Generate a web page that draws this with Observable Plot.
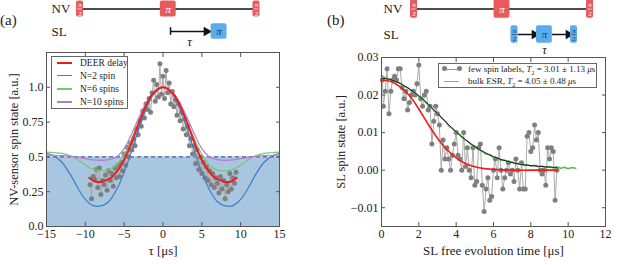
<!DOCTYPE html>
<html><head><meta charset="utf-8">
<script src="https://cdn.jsdelivr.net/npm/d3@7"></script>
<script src="https://cdn.jsdelivr.net/npm/@observablehq/plot@0.6"></script>
<style>
body{margin:0;background:#fff;}
#c{position:relative;width:623px;height:265px;overflow:hidden;font-family:"Liberation Serif","Times New Roman",serif;color:#222;}
#c svg{position:absolute;overflow:visible;font-family:"Liberation Serif","Times New Roman",serif !important;}
#c svg text{font-family:"Liberation Serif","Times New Roman",serif;}
.lbl{position:absolute;font-size:15px;line-height:1;}
.leg{position:absolute;box-sizing:border-box;background:#fff;border:1px solid #666;}
.row{position:absolute;left:0;right:0;height:12px;}
.sw{position:absolute;height:0;}
.tx{position:absolute;top:-6px;line-height:12px;white-space:nowrap;}
.dotm{position:absolute;width:5px;height:5px;border-radius:50%;background:#7f7f7f;top:-3px;}
</style></head><body><div id="c"></div>
<script>
// ---------- data: panel (a) ----------
const nvPoints = [[-9.4,0.30],[-9.2,0.20],[-9.0,0.36],[-8.8,0.34],[-8.6,0.41],[-8.4,0.28],[-8.2,0.42],[-8.0,0.23],[-7.8,0.33],[-7.6,0.30],
[-7.4,0.37],[-7.2,0.26],[-7.0,0.40],[-6.8,0.33],[-6.6,0.38],[-6.4,0.29],[-6.2,0.42],[-6.0,0.35],[-5.8,0.44],[-5.6,0.36],
[-5.4,0.46],[-5.2,0.40],[-5.0,0.52],[-4.8,0.44],[-4.6,0.57],[-4.4,0.50],[-4.2,0.60],[-4.0,0.55],[-3.8,0.63],[-3.6,0.58],
[-3.4,0.70],[-3.2,0.66],[-3.0,0.76],[-2.8,0.72],[-2.6,0.83],[-2.4,0.78],[-2.2,0.88],[-2.0,0.84],[-1.8,0.92],[-1.6,0.82],
[-1.4,0.96],[-1.2,1.05],[-1.0,0.90],[-0.8,1.02],[-0.6,0.93],[-0.4,1.17],[-0.2,0.95],[0.0,1.08],[0.2,0.92],[0.4,1.12],
[0.6,0.96],[0.8,1.03],[1.0,0.88],[1.2,0.97],[1.4,0.86],[1.6,0.91],[1.8,0.80],[2.0,0.88],[2.2,0.76],[2.4,0.82],
[2.6,0.70],[2.8,0.77],[3.0,0.66],[3.2,0.72],[3.4,0.58],[3.6,0.63],[3.8,0.52],[4.0,0.58],[4.2,0.45],[4.4,0.55],
[4.6,0.41],[4.8,0.50],[5.0,0.38],[5.2,0.46],[5.4,0.35],[5.6,0.43],[5.8,0.33],[6.0,0.40],[6.2,0.30],[6.4,0.38],
[6.6,0.28],[6.8,0.35],[7.0,0.31],[7.2,0.24],[7.4,0.36],[7.6,0.27],[7.8,0.33],[8.0,0.20],[8.2,0.30],[8.4,0.25],
[8.6,0.38],[8.8,0.27],[9.0,0.35],[9.2,0.31],[9.4,0.39]];
const tauCurve = [-15,-14,-13,-12,-11,-10,-9,-8,-7,-6,-5,-4,-3,-2,-1,0,1,2,3,4,5,6,7,8,9,10,11,12,13,14,15];
const n2Spin  = [0.525,0.505,0.46,0.38,0.28,0.195,0.150,0.148,0.178,0.262,0.39,0.55,0.72,0.87,0.966,1.0,0.966,0.87,0.72,0.55,0.39,0.262,0.178,0.148,0.150,0.195,0.28,0.38,0.46,0.505,0.525];
const n6Spins = [0.535,0.53,0.525,0.51,0.48,0.44,0.41,0.40,0.405,0.44,0.52,0.635,0.77,0.89,0.97,1.0,0.97,0.89,0.77,0.635,0.52,0.44,0.405,0.40,0.41,0.44,0.48,0.51,0.525,0.53,0.535];
const n10Spins= [0.512,0.512,0.51,0.505,0.497,0.487,0.478,0.475,0.48,0.50,0.56,0.67,0.795,0.905,0.975,1.0,0.975,0.905,0.795,0.67,0.56,0.50,0.48,0.475,0.478,0.487,0.497,0.505,0.51,0.512,0.512];
const tauDeer = [-9.5,-9,-8.5,-8,-7.5,-7,-6.5,-6,-5.5,-5,-4.5,-4,-3.5,-3,-2.5,-2,-1.5,-1,-0.5,0,0.5,1,1.5,2,2.5,3,3.5,4,4.5,5,5.5,6,6.5,7,7.5,8,8.5,9,9.5];
const deerDecay = [0.35,0.33,0.32,0.32,0.33,0.34,0.36,0.39,0.43,0.48,0.54,0.61,0.685,0.76,0.83,0.89,0.94,0.97,0.993,1.0,0.993,0.97,0.94,0.89,0.83,0.76,0.685,0.61,0.54,0.48,0.43,0.39,0.36,0.34,0.33,0.32,0.32,0.33,0.35];
const classicalLevel = [0.5];
const xTicksA = [-15,-10,-5,0,5,10,15];
const xTickLabelsA = ["\u221215","\u221210","\u22125","0","5","10","15"];
const yTicksA = [0,0.25,0.5,0.75,1.0];
const yTickLabelsA = ["0.0","0.25","0.5","0.75","1.0"];
const legendA = ["DEER delay","N=2 spin","N=6 spins","N=10 spins"];

// ---------- data: panel (b) ----------
const slPoints = [[0.05,0.024],[0.1,0.017],[0.2,0.021],[0.3,0.027],[0.4,0.015],[0.5,0.021],[0.6,0.024],[0.7,0.025],[0.8,0.024],[0.9,0.027],
[1.0,0.027],[1.1,0.022],[1.2,0.019],[1.3,0.021],[1.4,0.016],[1.5,0.018],[1.6,0.020],[1.7,0.021],[1.8,0.020],[1.9,0.023],
[2.0,0.028],[2.1,0.019],[2.2,0.017],[2.3,0.020],[2.4,0.021],[2.5,0.016],[2.6,0.017],[2.7,0.007],[2.8,0.013],[2.9,0.017],
[3.0,0.015],[3.1,0.012],[3.2,0.000],[3.3,0.008],[3.4,0.003],[3.5,0.006],[3.6,0.003],[3.7,0.000],[3.8,0.004],[3.9,0.007],
[4.0,0.010],[4.1,0.004],[4.2,0.003],[4.3,0.000],[4.4,0.010],[4.5,0.001],[4.6,0.006],[4.7,0.000],[4.8,-0.002],[4.9,0.006],
[5.0,-0.004],[5.1,-0.003],[5.2,0.006],[5.3,0.007],[5.4,-0.004],[5.5,-0.011],[5.6,-0.005],[5.7,-0.002],[5.8,-0.008],[5.9,-0.007],
[6.0,0.000],[6.1,0.003],[6.2,-0.002],[6.3,0.006],[6.4,0.000],[6.5,-0.005],[6.6,-0.002],[6.7,0.000],[6.8,0.002],[6.9,-0.001],
[7.0,0.000],[7.1,-0.003],[7.2,0.003],[7.3,0.000],[7.4,-0.005],[7.5,0.002],[7.6,-0.005],[7.7,-0.005],[7.8,0.009],[7.9,0.010],
[8.0,0.005],[8.1,0.006],[8.2,0.012],[8.3,0.008],[8.4,0.010],[8.5,0.000],[8.6,-0.001],[8.7,0.000],[8.8,-0.004],[8.9,0.006],
[9.0,0.003],[9.1,0.006],[9.2,0.005],[9.3,-0.008],[9.4,0.000]];
const bulkEsr = [[0.0,0.0252],[0.2,0.0246],[0.4,0.0243],[0.6,0.0240],[0.8,0.0234],[1.0,0.0232],[1.2,0.0224],[1.4,0.0220],[1.6,0.0210],[1.8,0.0206],
[2.0,0.0196],[2.2,0.0190],[2.4,0.0178],[2.6,0.0172],[2.8,0.0158],[3.0,0.0152],[3.2,0.0140],[3.4,0.0131],[3.6,0.0118],[3.8,0.0111],
[4.0,0.0100],[4.2,0.0094],[4.4,0.0083],[4.6,0.0078],[4.8,0.0068],[5.0,0.0064],[5.2,0.0055],[5.4,0.0050],[5.6,0.0043],[5.8,0.0041],
[6.0,0.0034],[6.2,0.0033],[6.4,0.0026],[6.6,0.0027],[6.8,0.0021],[7.0,0.0022],[7.2,0.0017],[7.4,0.0018],[7.6,0.0013],[7.8,0.0015],
[8.0,0.0011],[8.2,0.0013],[8.4,0.0009],[8.6,0.0011],[8.8,0.0007],[9.0,0.0010],[9.2,0.0006],[9.4,0.0009],[9.6,0.0005],[9.8,0.0008],
[10.0,0.0004],[10.2,0.0007],[10.4,0.0005]];
const fitBulk = [[0,0.0245],[0.5,0.0241],[1,0.0231],[1.5,0.0216],[2,0.0198],[2.5,0.0176],[3,0.0151],[3.5,0.0126],[4,0.0102],[4.5,0.0081],
[5,0.0063],[5.5,0.0048],[6,0.0036],[6.5,0.0027],[7,0.0020],[7.5,0.0015],[8,0.0012],[8.5,0.0010],[9,0.0008],[9.4,0.0007]];
const fitFew = [[0,0.0240],[0.5,0.0236],[1,0.0222],[1.5,0.0198],[2,0.0163],[2.5,0.0122],[3,0.0085],[3.5,0.0055],[4,0.0033],[4.5,0.0018],
[5,0.0009],[5.5,0.0004],[6,0.0002],[7,0.0],[8,0.0],[9.4,0.0]];
const xTicksB = [0,2,4,6,8,10,12];
const yTicksB = [-0.01,0,0.01,0.02,0.03];
const yTickLabelsB = ["\u22120.01","0.00","0.01","0.02","0.03"];

// ---------- data: pulse schematics ----------
const rowsA = [{row:0,name:"NV"},{row:1,name:"SL"}];
const pulsesA = [{t:0,dur:0.04,row:0,label:"π/2",ch:"NV"},{t:0.5,dur:0.09,row:0,label:"π",ch:"NV"},{t:1,dur:0.04,row:0,label:"π/2",ch:"NV"},
                 {t:0.788,dur:0.09,row:1,label:"π",ch:"SL"}];
const delayA = [{from:0.513,to:0.728,row:1,label:"τ"}];
const rowsB = [{row:0,name:"NV"},{row:1,name:"SL"}];
const pulsesB = [{t:0,dur:0.04,row:0,label:"π/2",ch:"NV"},{t:0.5,dur:0.09,row:0,label:"π",ch:"NV"},{t:1,dur:0.04,row:0,label:"π/2",ch:"NV"},
                 {t:0.571,dur:0.04,row:1,label:"π/2",ch:"SL"},{t:0.741,dur:0.09,row:1,label:"π",ch:"SL"},{t:0.909,dur:0.04,row:1,label:"π/2",ch:"SL"}];
const arrowsB = [{from:0.591,to:0.696,row:1},{from:0.786,to:0.889,row:1}];
const tauB = [{t:0.741,row:1,label:"τ"}];

// ---------- drawing ----------
const root = document.getElementById("c");
const FONT = "Liberation Serif";
function place(el, left, top){ el.style.left = left+"px"; el.style.top = top+"px"; root.appendChild(el); }
const P = d => d[0], V = d => d[1];
const col = {red:"#ee1d1d", blue:"#3b80c0", green:"#7cc673", purple:"#b57ccc", gray:"#7f7f7f", grayLine:"#ababab", fill:"#a9c6e0", frame:"#555"};
const blank = () => "";

function axesFor(xt, xfmt, yt, yfmt){
  return [
    Plot.axisX({ticks: xt, anchor:"bottom", tickSize:-4, tickPadding:7, tickFormat: xfmt, label:null, stroke:col.frame, fontSize:12, fontFamily:FONT, fill:"#222"}),
    Plot.axisX({ticks: xt, anchor:"top", tickSize:-4, tickFormat:blank, label:null, stroke:col.frame}),
    Plot.axisY({ticks: yt, anchor:"left", tickSize:-4, tickPadding:7, tickFormat: yfmt, label:null, stroke:col.frame, fontSize:12, fontFamily:FONT, fill:"#222"}),
    Plot.axisY({ticks: yt, anchor:"right", tickSize:-4, tickFormat:blank, label:null, stroke:col.frame}),
    Plot.frame({stroke:col.frame})
  ];
}
function yLabel(txt, dx){ return Plot.text([txt], {frameAnchor:"left", dx, rotate:-90, textAnchor:"middle", lineAnchor:"middle", fontSize:12.5, fontFamily:FONT, fill:"#222"}); }
function xLabel(txt){ return Plot.text([txt], {frameAnchor:"bottom", dy:24, textAnchor:"middle", lineAnchor:"middle", fontSize:13, fontFamily:FONT, fill:"#222"}); }

const curveA = tauCurve.map((t,i)=>({t, n2:n2Spin[i], n6:n6Spins[i], n10:n10Spins[i]}));
const deerA = tauDeer.map((t,i)=>({t, v:deerDecay[i]}));

const plotA = Plot.plot({
  width:310, height:265, marginLeft:46, marginRight:31, marginTop:52, marginBottom:39,
  style:{fontFamily:FONT, fontSize:"12px", background:"transparent", color:"#222"},
  x:{domain:[-15,15]}, y:{domain:[0,1.25]},
  marks:[
    Plot.rect(classicalLevel, {y1:0, y2:d=>d, fill:col.fill}),
    Plot.ruleY(classicalLevel, {stroke:"#5656a8", strokeWidth:1.3, strokeDasharray:"4,3"}),
    Plot.line(nvPoints, {x:P, y:V, stroke:col.grayLine, strokeWidth:1}),
    Plot.dot(nvPoints, {x:P, y:V, r:2.5, fill:col.gray, stroke:"none"}),
    Plot.line(curveA, {x:"t", y:"n2", stroke:col.blue, strokeWidth:1.2, curve:"catmull-rom"}),
    Plot.line(curveA, {x:"t", y:"n6", stroke:col.green, strokeWidth:1.2, curve:"catmull-rom"}),
    Plot.line(curveA, {x:"t", y:"n10", stroke:col.purple, strokeWidth:1.2, curve:"catmull-rom"}),
    Plot.line(deerA, {x:"t", y:"v", stroke:col.red, strokeWidth:2, curve:"catmull-rom"}),
    ...axesFor(xTicksA, d=>xTickLabelsA[xTicksA.indexOf(d)], yTicksA, d=>yTickLabelsA[yTicksA.indexOf(d)]),
    yLabel("NV-sensor spin state [a.u.]", -33),
    xLabel("τ [μs]")
  ]
});
place(plotA, 0, 0);

const plotB = Plot.plot({
  width:313, height:265, marginLeft:71, marginRight:18, marginTop:57, marginBottom:39,
  style:{fontFamily:FONT, fontSize:"12px", background:"transparent", color:"#222"},
  x:{domain:[0,12]}, y:{domain:[-0.015,0.03]},
  marks:[
    Plot.line(slPoints, {x:P, y:V, stroke:col.grayLine, strokeWidth:1}),
    Plot.dot(slPoints, {x:P, y:V, r:2.5, fill:col.gray, stroke:"none"}),
    Plot.line(bulkEsr, {x:P, y:V, stroke:"#5dbb55", strokeWidth:1.6}),
    Plot.line(fitBulk, {x:P, y:V, stroke:"#1a1a1a", strokeWidth:1, curve:"catmull-rom"}),
    Plot.line(fitFew, {x:P, y:V, stroke:col.red, strokeWidth:1.6, curve:"catmull-rom"}),
    ...axesFor(xTicksB, d=>String(d), yTicksB, d=>yTickLabelsB[yTicksB.indexOf(d)]),
    yLabel("SL spin state [a.u.]", -41),
    xLabel("SL free evolution time [μs]")
  ]
});
place(plotB, 310, 0);

// pulse schematics
function schematic(rows, pulses, xRange, yRange, labelX, extra){
  const pc = d => d.ch === "NV" ? "#e85a5c" : "#5aacee";
  const tc = d => d.ch === "NV" ? "#ffffff" : "#1c3a66";
  const halves = pulses.filter(d=>d.label==="π/2");
  const fulls = pulses.filter(d=>d.label==="π");
  const nvLine = [{row:0, from:d3.min(pulses.filter(d=>d.row===0), d=>d.t), to:d3.max(pulses.filter(d=>d.row===0), d=>d.t)}];
  return Plot.plot({
    width:310, height:50, margin:0,
    style:{fontFamily:FONT, background:"transparent", color:"#222"},
    x:{domain:[0,1], range:xRange, axis:null}, y:{domain:[0,1], range:yRange, axis:null},
    marks:[
      Plot.ruleY(nvLine, {y:"row", x1:"from", x2:"to", stroke:"#111", strokeWidth:1.5}),
      ...extra,
      Plot.rect(pulses, {x1:d=>d.t-d.dur/2, x2:d=>d.t+d.dur/2, y1:d=>d.row-(d.row?0.34:0.36), y2:d=>d.row+(d.row?0.34:0.36), fill:pc, rx:2}),
      Plot.text(fulls, {x:"t", y:"row", text:"label", fill:tc, fontSize:11, fontStyle:"italic", fontFamily:FONT}),
      Plot.text(halves, {x:"t", y:"row", text:()=>"π", dy:-4, fill:tc, fontSize:7, fontFamily:FONT}),
      Plot.text(halves, {x:"t", y:"row", text:()=>"2", dy:4.5, fill:tc, fontSize:7, fontFamily:FONT}),
      Plot.ruleY(halves, {y:"row", x1:d=>d.t-d.dur*0.32, x2:d=>d.t+d.dur*0.32, stroke:tc, strokeWidth:0.6}),
      Plot.text(rows, {y:"row", text:"name", frameAnchor:"left", dx:labelX, textAnchor:"start", lineAnchor:"middle", fontSize:13, fontFamily:FONT, fill:"#222"})
    ]
  });
}
const schemA = schematic(rowsA, pulsesA, [79.5,256], [8.5,31], 51, [
  Plot.ruleY(delayA, {y:"row", x1:"from", x2:"to", stroke:"#111", strokeWidth:1.5}),
  Plot.ruleX(delayA, {x:"from", y1:d=>d.row-0.17, y2:d=>d.row+0.17, stroke:"#111", strokeWidth:1.5}),
  Plot.dot(delayA, {x:"to", y:"row", symbol:"triangle", rotate:90, r:3.6, fill:"#111", dx:-2}),
  Plot.text(delayA, {x:d=>(d.from+d.to)/2, y:"row", text:"label", dy:10, fontSize:13, fontStyle:"italic", fontFamily:FONT, fill:"#222"})
]);
place(schemA, 0, 0);
const schemB = schematic(rowsB, pulsesB, [413.5-310,589.5-310], [8.5,34], 73, [
  Plot.ruleY(arrowsB, {y:"row", x1:"from", x2:"to", stroke:"#111", strokeWidth:1.5}),
  Plot.dot(arrowsB, {x:"to", y:"row", symbol:"triangle", rotate:90, r:3.6, fill:"#111", dx:-2}),
  Plot.text(tauB, {x:"t", y:"row", text:"label", dy:15, fontSize:12.5, fontStyle:"italic", fontFamily:FONT, fill:"#222"})
]);
place(schemB, 310, 0);

// panel labels
for (const [txt, l, t] of [["(a)",0,13],["(b)",327,13]]) {
  const d = document.createElement("div"); d.className = "lbl"; d.textContent = txt; place(d, l, t);
}

// legend (a)
const legColors = [col.red, col.blue, col.green, col.purple];
const legWidths = [2, 1.3, 2, 2];
const la = document.createElement("div"); la.className="leg";
la.style.width="77px"; la.style.height="53px"; la.style.fontSize="9.5px";
legendA.forEach((name,i)=>{
  const r = document.createElement("div"); r.className="row"; r.style.top=(7+13*i-1)+"px";
  const sw = document.createElement("div"); sw.className="sw"; sw.style.left="5px"; sw.style.width="15px";
  sw.style.borderTop = legWidths[i]+"px solid "+legColors[i]; sw.style.top = (-legWidths[i]/2)+"px";
  const tx = document.createElement("div"); tx.className="tx"; tx.style.left="28px"; tx.textContent=name;
  r.appendChild(sw); r.appendChild(tx); la.appendChild(r);
});
place(la, 51, 56);

// legend (b)
const lb = document.createElement("div"); lb.className="leg";
lb.style.width="159px"; lb.style.height="25px"; lb.style.fontSize="9px";
const legendB = [
  {html:"few spin labels, <i>T</i><sub style='font-size:6px'>2</sub> = 3.01 ± 1.13 <i>μ</i>s", kind:"points"},
  {html:"bulk ESR, <i>T</i><sub style='font-size:6px'>2</sub> = 4.05 ± 0.48 <i>μ</i>s", kind:"line"}
];
legendB.forEach((e,i)=>{
  const r = document.createElement("div"); r.className="row"; r.style.top=(6+12*i-1)+"px";
  const sw = document.createElement("div"); sw.className="sw"; sw.style.left="5px"; sw.style.width="15px";
  sw.style.borderTop = e.kind==="points" ? "1px solid #999" : "1.6px solid #6cc464"; sw.style.top="0px";
  r.appendChild(sw);
  if (e.kind==="points") {
    for (const x of [3,18]) { const m=document.createElement("div"); m.className="dotm"; m.style.left=(x)+"px"; r.appendChild(m); }
  }
  const tx = document.createElement("div"); tx.className="tx"; tx.style.left="29px"; tx.innerHTML=e.html;
  r.appendChild(tx); lb.appendChild(r);
});
place(lb, 438, 63);
</script></body></html>
